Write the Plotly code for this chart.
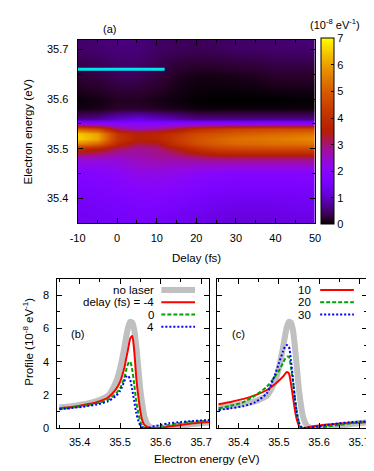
import math

import plotly.graph_objects as go

# ---- panel (a): map of the profile vs. delay ----
delays = [-10, -5, 0, 5, 10, 15, 20, 25, 30, 35, 40, 45, 50]
map_energy = [35.35, 35.40, 35.45, 35.48, 35.50, 35.51, 35.52, 35.53, 35.54,
              35.55, 35.56, 35.58, 35.60, 35.65, 35.70, 35.72]
map_z = [
    [1.35, 1.4, 1.45, 1.5, 1.45, 1.35, 1.25, 1.15, 1.1, 1.1, 1.15, 1.2, 1.2],
    [1.5, 1.55, 1.65, 1.75, 1.75, 1.65, 1.55, 1.45, 1.4, 1.4, 1.4, 1.45, 1.45],
    [1.8, 1.85, 2.0, 2.2, 2.25, 2.15, 2.0, 1.9, 1.85, 1.85, 1.85, 1.85, 1.85],
    [2.4, 2.4, 2.4, 2.6, 2.7, 2.7, 2.8, 2.9, 2.9, 2.9, 2.9, 2.9, 2.9],
    [3.9, 3.6, 3.0, 2.8, 2.9, 3.4, 4.0, 4.4, 4.5, 4.6, 4.6, 4.6, 4.6],
    [5.6, 5.2, 3.8, 3.2, 3.3, 4.1, 4.7, 5.0, 5.2, 5.2, 5.3, 5.3, 5.4],
    [6.6, 6.1, 4.2, 3.6, 3.7, 4.3, 4.8, 5.1, 5.3, 5.4, 5.5, 5.6, 5.7],
    [6.5, 6.0, 4.1, 3.6, 3.7, 4.1, 4.6, 4.8, 5.0, 5.1, 5.2, 5.3, 5.4],
    [5.0, 4.5, 3.0, 2.6, 2.8, 3.3, 3.9, 4.2, 4.4, 4.5, 4.6, 4.6, 4.6],
    [2.2, 2.1, 2.0, 2.0, 2.0, 2.0, 2.1, 2.1, 2.1, 2.1, 2.1, 2.1, 2.1],
    [0.6, 0.7, 1.0, 1.2, 1.0, 0.8, 0.6, 0.6, 0.6, 0.6, 0.6, 0.6, 0.6],
    [0.08, 0.1, 0.2, 0.2, 0.15, 0.1, 0.05, 0.05, 0.05, 0.05, 0.05, 0.05, 0.05],
    [0.05, 0.08, 0.15, 0.15, 0.1, 0.05, 0.02, 0.0, 0.0, 0.0, 0.0, 0.02, 0.02],
    [0.25, 0.3, 0.4, 0.4, 0.3, 0.15, 0.1, 0.1, 0.12, 0.15, 0.2, 0.2, 0.2],
    [0.45, 0.5, 0.55, 0.55, 0.45, 0.4, 0.38, 0.4, 0.45, 0.45, 0.48, 0.5, 0.5],
    [0.48, 0.52, 0.57, 0.57, 0.48, 0.42, 0.4, 0.42, 0.47, 0.47, 0.5, 0.52, 0.52],
]
pulse_delay = [-10, 12]
pulse_energy = [35.66, 35.66]
delay_ticks = [-10, 0, 10, 20, 30, 40, 50]
delay_labels = ["-10", "0", "10", "20", "30", "40", "50"]

# ---- panels (b), (c): line profiles ----
energy = [35.35, 35.38, 35.41, 35.44, 35.47, 35.49, 35.50, 35.51, 35.515, 35.52,
          35.525, 35.53, 35.535, 35.54, 35.545, 35.55, 35.555, 35.56, 35.57,
          35.58, 35.60, 35.62, 35.65, 35.68, 35.72]
no_laser = [1.25, 1.33, 1.45, 1.62, 1.95, 2.8, 3.6, 4.8, 5.5, 6.1, 6.4, 6.35,
            5.9, 4.9, 3.6, 2.3, 1.4, 0.7, 0.15, 0.02, 0.0, 0.05, 0.15, 0.25, 0.35]
d_m4 = [1.2, 1.28, 1.4, 1.55, 1.85, 2.35, 2.8, 3.6, 4.2, 4.8, 5.4, 5.55, 4.6,
        3.0, 1.9, 1.0, 0.45, 0.2, 0.05, 0.0, 0.02, 0.1, 0.2, 0.3, 0.38]
d_0 = [1.18, 1.25, 1.35, 1.48, 1.7, 2.1, 2.4, 3.0, 3.5, 3.9, 4.0, 3.5, 2.6,
       1.6, 0.9, 0.4, 0.12, 0.03, 0.0, 0.0, 0.05, 0.2, 0.32, 0.4, 0.45]
d_4 = [1.15, 1.22, 1.3, 1.42, 1.62, 1.95, 2.25, 2.8, 3.1, 3.15, 2.9, 2.3, 1.6,
       0.9, 0.45, 0.15, 0.05, 0.0, 0.02, 0.1, 0.2, 0.3, 0.38, 0.44, 0.5]
d_10 = [1.45, 1.58, 1.75, 1.98, 2.3, 2.65, 2.85, 3.1, 3.25, 3.38, 3.3, 2.7, 1.9,
        1.1, 0.5, 0.15, 0.03, 0.0, 0.05, 0.1, 0.17, 0.22, 0.27, 0.32, 0.36]
d_20 = [1.2, 1.35, 1.55, 1.95, 2.5, 3.1, 3.45, 3.9, 4.15, 4.3, 4.3, 3.7, 2.8,
        1.8, 0.9, 0.35, 0.08, 0.0, 0.0, 0.0, 0.03, 0.1, 0.2, 0.3, 0.38]
d_30 = [1.1, 1.2, 1.32, 1.55, 2.1, 3.2, 3.9, 4.6, 4.9, 5.0, 4.9, 4.1, 3.0,
        1.8, 0.9, 0.35, 0.1, 0.02, 0.02, 0.06, 0.12, 0.2, 0.3, 0.37, 0.42]

W, H = 374, 471
FONT = "Liberation Sans, Arial, sans-serif"


def px(x):
    return x / W


def py(y):
    return 1 - y / H


# gnuplot default palette (rgbformulae 7,5,15)
def _pal(t):
    r = math.sqrt(t)
    g = t ** 3
    b = max(0.0, math.sin(2 * math.pi * t))
    return f"rgb({round(255 * r)},{round(255 * g)},{round(255 * b)})"


palette = [[i / 40, _pal(i / 40)] for i in range(41)]

fig = go.Figure()

fig.add_trace(go.Heatmap(
    x=delays, y=map_energy, z=map_z, zmin=0, zmax=7, zsmooth="best",
    colorscale=palette, xaxis="x", yaxis="y",
    colorbar=dict(
        x=px(317), xanchor="left", xpad=0, y=py(125), yanchor="middle", ypad=0,
        len=186, lenmode="pixels", thickness=13, thicknessmode="pixels",
        outlinewidth=1, outlinecolor="black",
        ticks="inside", ticklen=3, tickcolor="black", tick0=0, dtick=1,
        tickfont=dict(size=11, color="black", family=FONT),
    ),
    hoverinfo="skip",
))
fig.add_trace(go.Scatter(
    x=pulse_delay, y=pulse_energy, mode="lines", xaxis="x", yaxis="y",
    line=dict(color="#00e5ee", width=3), showlegend=False,
))

GREY = dict(color="#c0c0c0", width=6)
RED = dict(color="#ff0000", width=2)
GREEN = dict(color="#00a000", width=2, dash="4px,2px")
BLUE = dict(color="#0000ff", width=2, dash="2px,2px")

for ax, curves in (("2", [(no_laser, GREY), (d_m4, RED), (d_0, GREEN), (d_4, BLUE)]),
                   ("3", [(no_laser, GREY), (d_10, RED), (d_20, GREEN), (d_30, BLUE)])):
    for ys, style in curves:
        fig.add_trace(go.Scatter(
            x=energy, y=ys, mode="lines", line=dict(shape="spline", smoothing=0.6, **style),
            xaxis="x" + ax, yaxis="y" + ax, showlegend=False, hoverinfo="skip",
        ))

axis = dict(
    showline=True, linecolor="black", linewidth=1, mirror="ticks",
    ticks="inside", ticklen=5, tickcolor="black", showgrid=False, zeroline=False,
    tickfont=dict(size=11, color="black", family=FONT),
)

fig.update_layout(
    width=W, height=H, margin=dict(l=0, r=0, t=0, b=0),
    paper_bgcolor="white", plot_bgcolor="white", showlegend=False,
    font=dict(family=FONT, size=11, color="black"),
    xaxis=dict(axis, domain=[px(64), px(310.7)], anchor="y", range=[-10, 50],
               tickvals=delay_ticks, ticktext=delay_labels, ticklabelstandoff=5,
               minor=dict(ticks="inside", ticklen=3, dtick=5, tick0=0, tickcolor="black")),
    yaxis=dict(axis, domain=[py(218), py(32)], anchor="x", range=[35.35, 35.72],
               tick0=35.4, dtick=0.1, tickformat=".1f", ticklabelstandoff=6,
               minor=dict(ticks="inside", ticklen=3, dtick=0.05, tick0=35.35, tickcolor="black")),
    xaxis2=dict(axis, domain=[px(43), px(200.7)], anchor="y2", range=[35.345, 35.72],
                tick0=35.4, dtick=0.1, tickformat=".1f", ticklabelstandoff=4,
                minor=dict(ticks="inside", ticklen=3, dtick=0.05, tick0=35.35, tickcolor="black")),
    yaxis2=dict(axis, domain=[py(425.7), py(274)], anchor="x2", range=[0, 9],
                tick0=0, dtick=2, ticklabelstandoff=5,
                minor=dict(ticks="inside", ticklen=3, dtick=1, tick0=0, tickcolor="black")),
    xaxis3=dict(axis, domain=[px(208.3), px(365)], anchor="y3", range=[35.345, 35.72],
                tick0=35.4, dtick=0.1, tickformat=".1f", ticklabelstandoff=4,
                minor=dict(ticks="inside", ticklen=3, dtick=0.05, tick0=35.35, tickcolor="black")),
    yaxis3=dict(axis, domain=[py(425.7), py(274)], anchor="x3", range=[0, 9],
                tick0=0, dtick=2, showticklabels=False,
                minor=dict(ticks="inside", ticklen=3, dtick=1, tick0=0, tickcolor="black")),
)


def note(text, x, y, xanchor="center", angle=0, size=11):
    fig.add_annotation(text=text, x=px(x), y=py(y), xref="paper", yref="paper",
                       xanchor=xanchor, yanchor="middle", showarrow=False,
                       textangle=angle, font=dict(size=size, color="black", family=FONT))


note("(a)", 97, 21)
note("(10<sup>-8</sup> eV<sup>-1</sup>)", 331, 16)
note("Electron energy (eV)", 12.5, 125, angle=-90, size=11.5)
note("Delay (fs)", 188, 253, size=11.5)
note("Profile (10<sup>-8</sup> eV<sup>-1</sup>)", 12.5, 338, angle=-90, size=11.5)
note("Electron energy (eV)", 198, 457, size=11.5)
note("(b)", 63.5, 330)
note("(c)", 231, 330)

# hand-made legends: label on the left, line sample on the right
legend_b = [("no laser", GREY), ("delay (fs) = -4", RED), ("0", GREEN), ("4", BLUE)]
legend_c = [("10", RED), ("20", GREEN), ("30", BLUE)]
for items, x_text, x0, x1 in ((legend_b, 145, 151, 186), (legend_c, 309, 316, 351)):
    for k, (label, style) in enumerate(items):
        yrow = 285.7 + 12.4 * k
        note(label, x_text, yrow, xanchor="right", size=11.5)
        fig.add_shape(type="line", xref="paper", yref="paper",
                      x0=px(x0), x1=px(x1), y0=py(yrow), y1=py(yrow), line=style)

fig.write_html("out.html")
